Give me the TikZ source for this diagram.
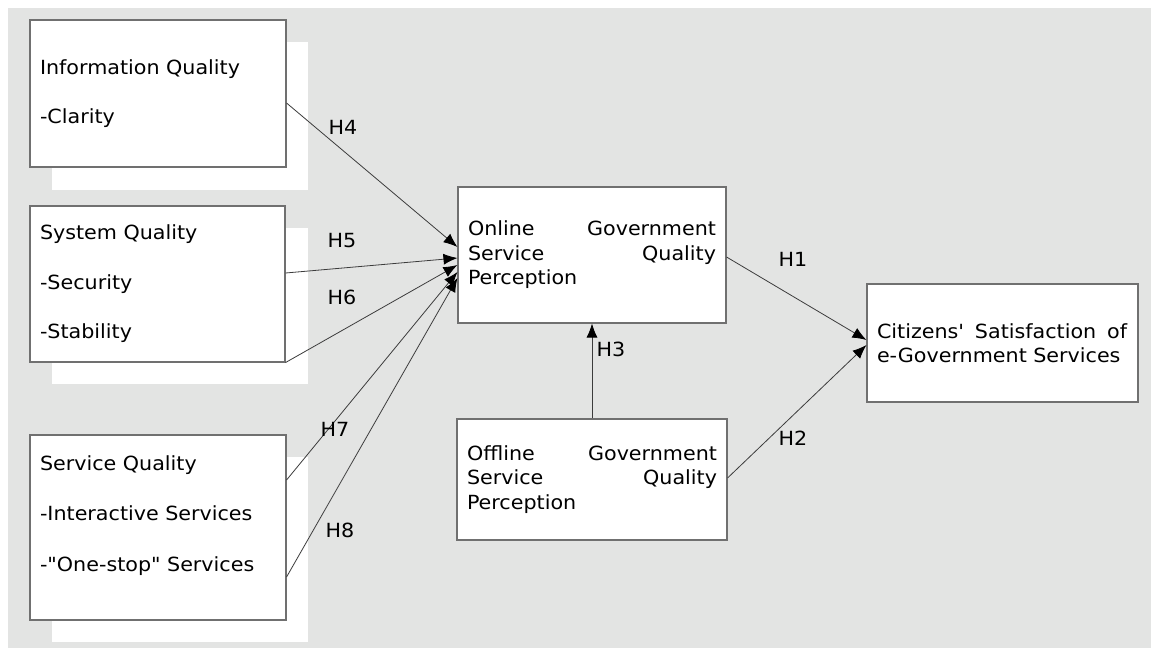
\documentclass[tikz,border=0pt]{standalone}
\usepackage{fontspec}
\newfontfamily\df[FakeStretch=1.06]{DejaVu Sans}
\usetikzlibrary{arrows.meta}
\definecolor{bg}{RGB}{227,228,227}
\definecolor{edgecol}{RGB}{112,112,112}
\definecolor{lncol}{RGB}{60,60,60}
\begin{document}
\begin{tikzpicture}[x=1pt,y=-1pt,
 every node/.style={font=\df\fontsize{19.5}{24.5}\selectfont},
 box/.style={draw=edgecol, line width=1.1pt, fill=white, inner xsep=10pt, inner ysep=0pt, align=left},
 conn/.style={draw=lncol, line width=0.8pt, -{Latex[length=14pt,width=11pt,black]}},
 hlab/.style={inner sep=0pt}]
\useasboundingbox (0,0) rectangle (1151,648);
\fill[bg] (8,8) rectangle (1151,648);
% offset white shadows
\fill[white] (52,42) rectangle (308,190);
\fill[white] (52,228) rectangle (308,384);
\fill[white] (52,457) rectangle (308,642);
% boxes
\node[box, minimum width=256pt, minimum height=147pt, text width=236pt] (iq) at (158,93.5)
 {Information Quality\\[24pt]-Clarity};
\node[box, minimum width=255pt, minimum height=156pt, text width=235pt] (sq) at (157.5,284)
 {System Quality\\[25pt]-Security\\[25pt]-Stability};
\node[box, minimum width=256pt, minimum height=185pt, text width=236pt] (svq) at (158,527.5)
 {Service Quality\\[26pt]-Interactive Services\\[26pt]-"One-stop" Services\\[4pt]\mbox{}};
\node[box, minimum width=268pt, minimum height=136pt, text width=248pt] (on) at (592,255)
 {\leavevmode\hbox to 248pt{Online\hfill Government}\\\leavevmode\hbox to 248pt{Service\hfill Quality}\\Perception};
\node[box, minimum width=270pt, minimum height=121pt, text width=250pt] (off) at (592,479.5)
 {\leavevmode\hbox to 250pt{Offline\hfill Government}\\\leavevmode\hbox to 250pt{Service\hfill Quality}\\Perception};
\node[box, minimum width=271pt, minimum height=118pt, text width=251pt] (cit) at (1002.5,343)
 {\leavevmode\hbox to 250pt{Citizens'\hfill Satisfaction\hfill of}\\e-Government Services};
% connectors
\draw[conn] ([yshift=-9.5pt]iq.east) -- ([yshift=8pt]on.west);
\draw[conn] ([yshift=11pt]sq.east) -- ([yshift=-3pt]on.west);
\draw[conn] (sq.south east) -- ([yshift=-10pt]on.west);
\draw[conn] ([yshift=47.5pt]svq.east) -- ([yshift=-17pt]on.west);
\draw[conn] ([yshift=-49.5pt]svq.east) -- ([yshift=-23pt]on.west);
\draw[conn] ([yshift=-2pt]on.east) -- ([yshift=3pt]cit.west);
\draw[conn] ([yshift=1.5pt]off.east) -- ([yshift=-2pt]cit.west);
\draw[conn] (off.north) -- (on.south);
% labels
\node[hlab] (h4) at (343,127.5) {H4};
\node[hlab] (h5) at (342,241) {H5};
\node[hlab] (h6) at (342,297.5) {H6};
\node[hlab] (h7) at (335,429) {H7};
\node[hlab] (h8) at (340,530) {H8};
\node[hlab] (h1) at (793,259) {H1};
\node[hlab] (h2) at (793,438) {H2};
\node[hlab] (h3) at (611,349.5) {H3};
\end{tikzpicture}
\end{document}
